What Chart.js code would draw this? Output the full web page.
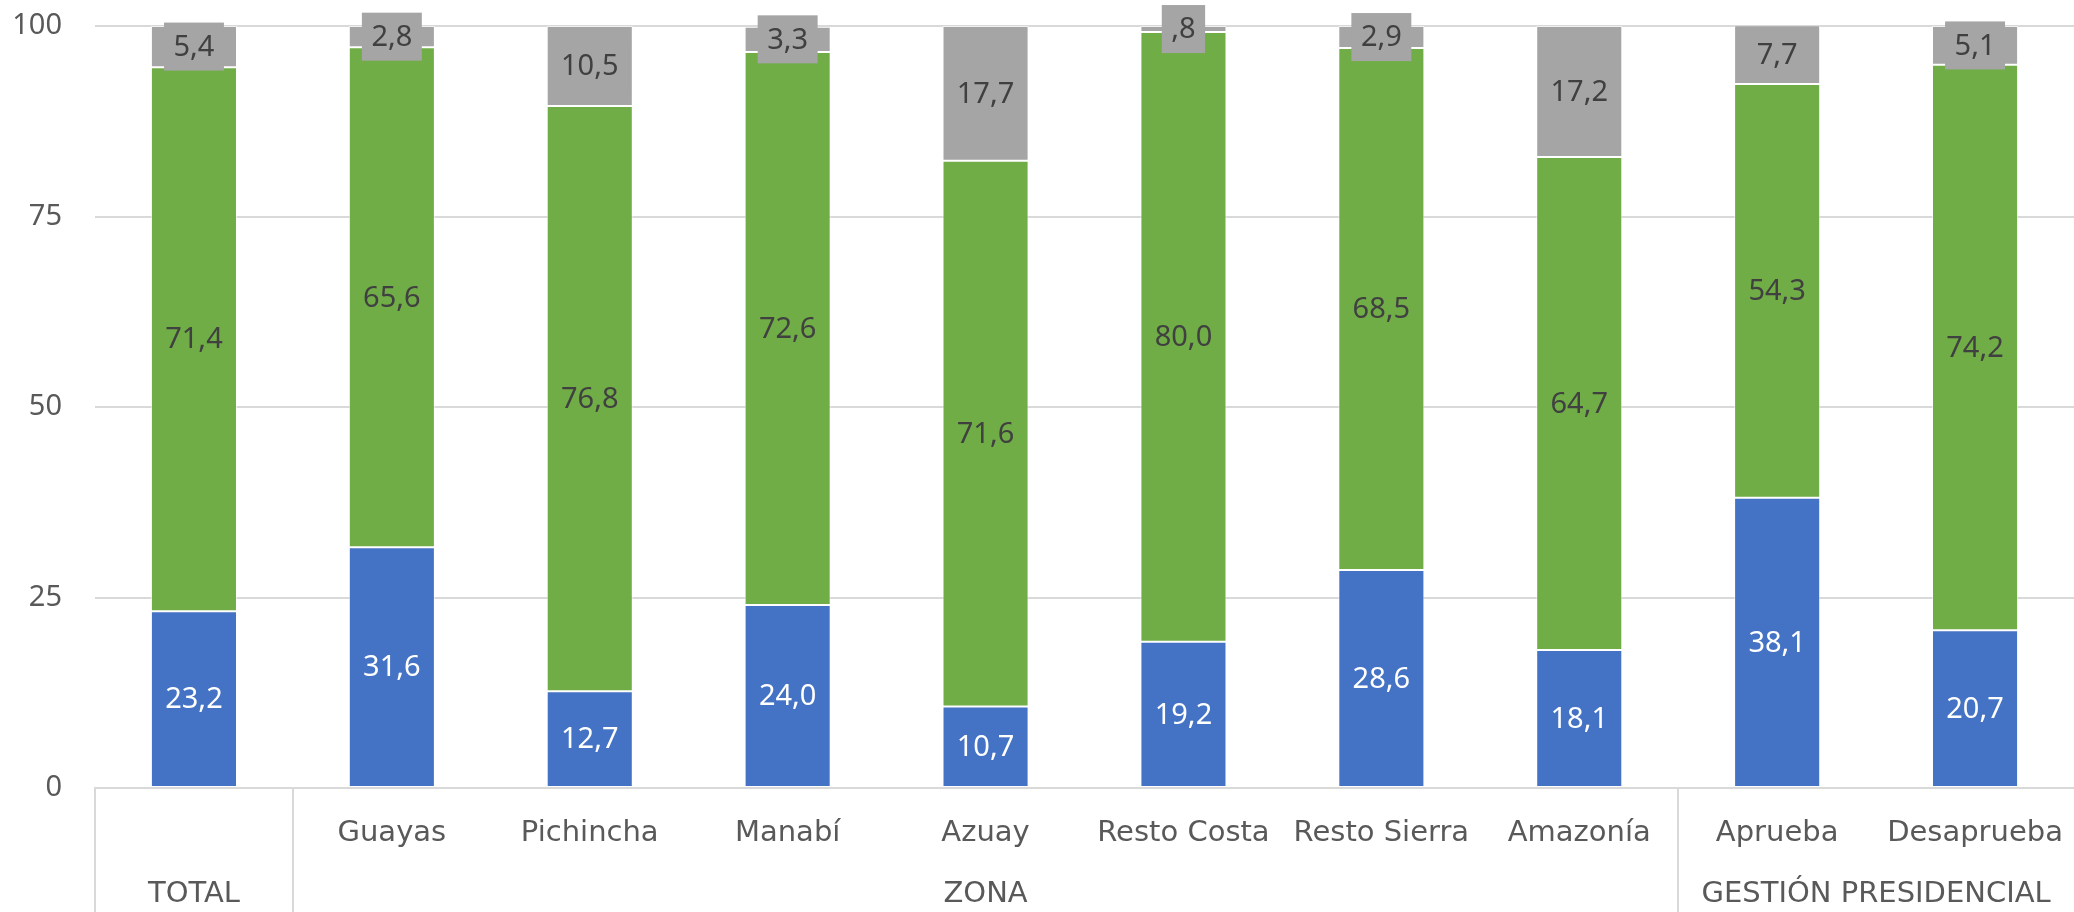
<!DOCTYPE html>
<html>
<head>
<meta charset="utf-8">
<script src="https://cdn.jsdelivr.net/npm/chart.js@4.4.0/dist/chart.umd.min.js"></script>
<style>
  html, body { margin: 0; padding: 0; background: #fff; overflow: hidden; }
  #wrap { width: 2074px; height: 912px; position: relative; }
</style>
</head>
<body>
<div id="wrap"><canvas id="chart"></canvas></div>
<script>
const categories = ['', 'Guayas', 'Pichincha', 'Manabí', 'Azuay', 'Resto Costa', 'Resto Sierra', 'Amazonía', 'Aprueba', 'Desaprueba'];
const groups = ['TOTAL', 'ZONA', 'GESTIÓN PRESIDENCIAL'];
const groupSpans = [[0, 0], [1, 7], [8, 9]];
const blueValues = [23.2, 31.6, 12.7, 24.0, 10.7, 19.2, 28.6, 18.1, 38.1, 20.7];
const greenValues = [71.4, 65.6, 76.8, 72.6, 71.6, 80.0, 68.5, 64.7, 54.3, 74.2];
const grayValues = [5.4, 2.8, 10.5, 3.3, 17.7, 0.8, 2.9, 17.2, 7.7, 5.1];
const yTicks = [0, 25, 50, 75, 100];

const NUM_FONT = '"Noto Sans", "Open Sans", sans-serif';
const CAT_FONT = '"DejaVu Sans", sans-serif';
const TEXT = '#595959';
const LINE = '#d9d9d9';
const NONE = 'rgba(0,0,0,0)';

// Excel style: comma decimal, no leading zero (",8")
function fmt(v) {
    let s = v.toFixed(1).replace('.', ',');
    if (s.startsWith('0,')) s = s.slice(1);
    return s;
}

// value labels centred on every segment
const segLabels = {
    id: 'segLabels',
    afterDatasetsDraw(chart) {
        const ctx = chart.ctx;
        ctx.save();
        ctx.font = '29px ' + NUM_FONT;
        ctx.textAlign = 'center';
        ctx.textBaseline = 'middle';
        chart.data.datasets.forEach((ds, di) => {
            const meta = chart.getDatasetMeta(di);
            meta.data.forEach((bar, i) => {
                const txt = fmt(ds.data[i]);
                const yMid = (bar.y + bar.base) / 2;
                if (ds.labelBox) {
                    const w = ctx.measureText(txt).width + 19;
                    ctx.fillStyle = ds.labelBox;
                    ctx.fillRect(bar.x - w / 2, yMid - 24, w, 48);
                }
                ctx.fillStyle = ds.labelColor;
                ctx.fillText(txt, bar.x, yMid + 1);
            });
        });
        ctx.restore();
    }
};

// second level of the category axis: group names and separators
const groupAxis = {
    id: 'groupAxis',
    afterDraw(chart) {
        const { ctx, chartArea } = chart;
        const x = chart.scales.x;
        const step = x.getPixelForValue(1) - x.getPixelForValue(0);
        ctx.save();
        ctx.strokeStyle = LINE;
        ctx.lineWidth = 2;
        ctx.font = '29px ' + CAT_FONT;
        ctx.fillStyle = TEXT;
        ctx.textAlign = 'center';
        ctx.textBaseline = 'middle';
        groupSpans.forEach(([a, b], gi) => {
            const left = Math.round(x.getPixelForValue(a) - step / 2);
            ctx.beginPath();
            ctx.moveTo(left, chartArea.bottom);
            ctx.lineTo(left, chart.height);
            ctx.stroke();
            const cx = (x.getPixelForValue(a) + x.getPixelForValue(b)) / 2;
            ctx.fillText(groups[gi], cx, chartArea.bottom + 106);
        });
        ctx.restore();
    }
};

const ctx = document.getElementById('chart').getContext('2d');
new Chart(ctx, {
    type: 'bar',
    data: {
        labels: categories,
        datasets: [
            { label: 'Serie 1', data: blueValues, backgroundColor: '#4472C4', labelColor: '#ffffff' },
            { label: 'Serie 2', data: greenValues, backgroundColor: '#70AD47', labelColor: '#404040' },
            { label: 'Serie 3', data: grayValues, backgroundColor: '#A5A5A5', labelColor: '#404040', labelBox: '#A5A5A5' }
        ].map(d => Object.assign(d, {
            borderColor: 'rgba(255,255,255,0.6)',
            borderWidth: 1,
            borderSkipped: false,
            categoryPercentage: 1,
            barPercentage: 0.435
        }))
    },
    options: {
        responsive: true,
        maintainAspectRatio: false,
        animation: false,
        layout: { padding: { top: 26, bottom: 0, left: 0, right: 0 } },
        scales: {
            x: {
                stacked: true,
                // invisible ticks push the labels down without widening the side padding
                grid: { display: true, drawOnChartArea: false, drawTicks: true, tickLength: 28, tickColor: NONE },
                border: { display: true, color: LINE, width: 2 },
                ticks: {
                    color: TEXT,
                    font: { family: CAT_FONT, size: 29 },
                    padding: 0,
                    maxRotation: 0,
                    autoSkip: false
                },
                afterFit: s => { s.height = 124; }
            },
            y: {
                stacked: true,
                min: 0,
                max: 100,
                grid: { color: LINE, lineWidth: 2, drawTicks: true, tickLength: 33, tickColor: NONE },
                border: { display: false },
                ticks: {
                    color: TEXT,
                    font: { family: NUM_FONT, size: 29 },
                    padding: 0
                },
                afterBuildTicks: s => { s.ticks = yTicks.map(v => ({ value: v })); },
                afterFit: s => { s.width = 95; }
            }
        },
        plugins: {
            legend: { display: false },
            tooltip: { enabled: false }
        }
    },
    plugins: [segLabels, groupAxis]
});
</script>
</body>
</html>
